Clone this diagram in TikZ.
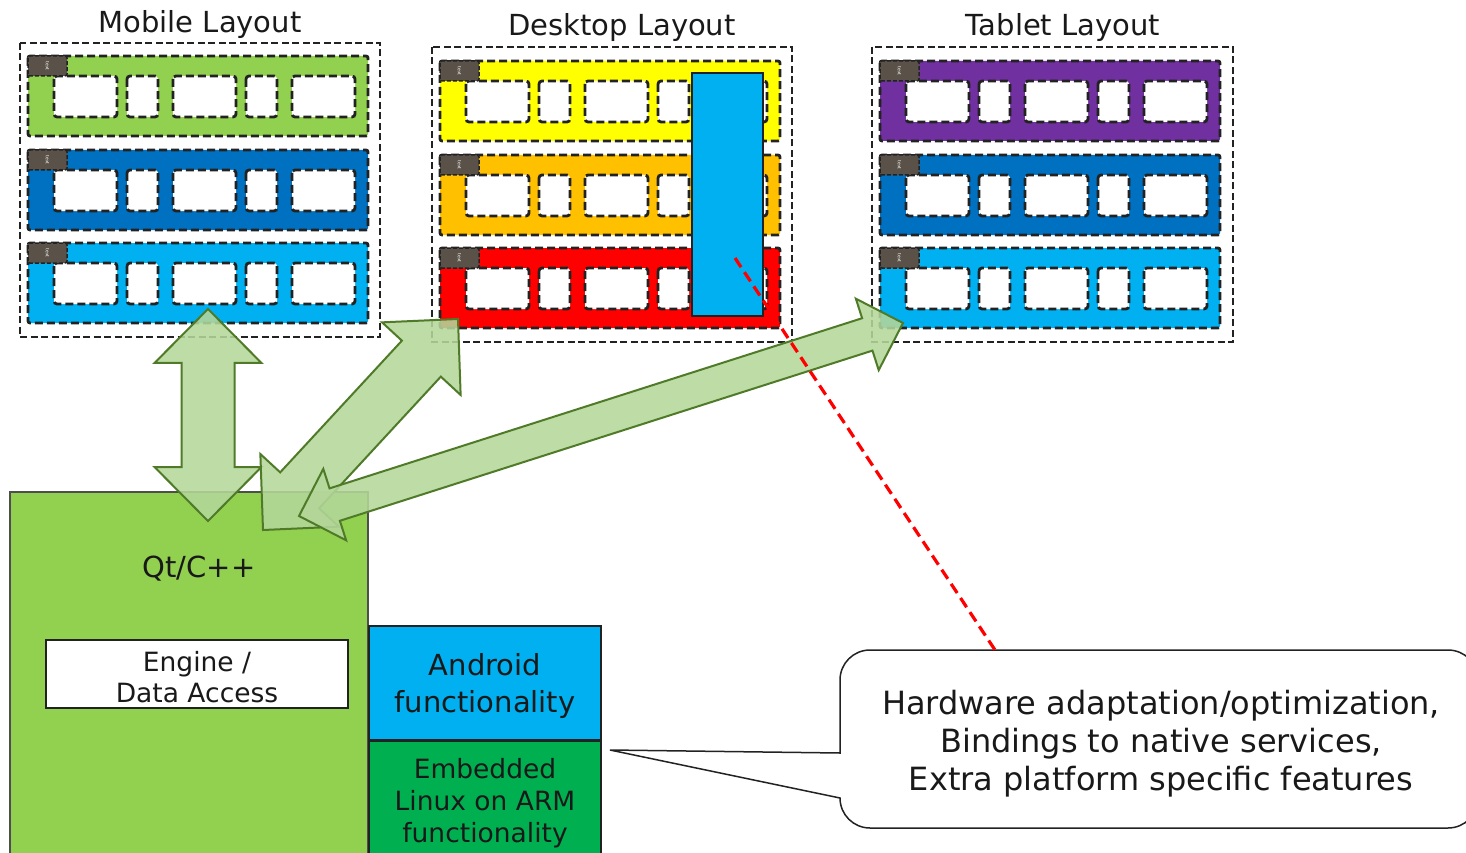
\documentclass[tikz,border=0pt]{standalone}
\usepackage{fontspec}
\setmainfont{DejaVu Sans}
\usetikzlibrary{calc}
\definecolor{rowgreen}{HTML}{92D050}
\definecolor{rowdblue}{HTML}{0070C0}
\definecolor{rowlblue}{HTML}{00B0F0}
\definecolor{rowyellow}{HTML}{FFFF00}
\definecolor{roworange}{HTML}{FFC000}
\definecolor{rowred}{HTML}{FF0000}
\definecolor{rowpurple}{HTML}{7030A0}
\definecolor{tabgray}{HTML}{5A5249}
\definecolor{embgreen}{HTML}{00B050}
\definecolor{arrfill}{HTML}{B4D79A}
\definecolor{arrdraw}{HTML}{4F7B29}
\definecolor{linegray}{HTML}{222222}
\tikzset{
  outerbox/.style={draw=linegray, line width=2.3pt, dash pattern=on 7pt off 3.5pt},
  rowbox/.style={draw=linegray, line width=2.8pt, dash pattern=on 8pt off 4pt, rounded corners=2pt},
  cellbox/.style={draw=linegray, fill=white, line width=2.8pt, dash pattern=on 8pt off 4pt, rounded corners=3pt},
  tabbox/.style={draw=linegray, fill=tabgray, line width=1.5pt, dash pattern=on 4pt off 2pt, rounded corners=2pt},
  tabtext/.style={text=white, font=\fontsize{4.5}{5}\selectfont, rotate=-90, inner sep=0pt},
  bigarrow/.style={draw=arrdraw, fill=arrfill, fill opacity=0.88, line width=2pt, line join=miter},
  titletext/.style={font=\fontsize{29}{34}\selectfont, text=black!90},
  blocktext/.style={align=center, text=black!90},
}
\newcommand{\lrow}[3]{%
  \begin{scope}[shift={(#1,#2)}]
    \draw[rowbox, fill=#3] (0,0) rectangle (340,80);
    \foreach \a/\b in {26/89, 99/130, 145/208, 218/249, 264/327}
      \draw[cellbox] (\a,20) rectangle (\b,61);
    \draw[tabbox] (0,0) rectangle (39,20);
    \node[tabtext] at (19.5,10) {text};
  \end{scope}}
\newcommand{\dblarr}[6]{%
  \draw[bigarrow] (#1) -- ($(#1)!#3pt!#4:(#2)$) -- ($(#1)!#5pt!#6:(#2)$)
    -- ($(#2)!#5pt!-#6:(#1)$) -- ($(#2)!#3pt!-#4:(#1)$) -- (#2)
    -- ($(#2)!#3pt!#4:(#1)$) -- ($(#2)!#5pt!#6:(#1)$)
    -- ($(#1)!#5pt!-#6:(#2)$) -- ($(#1)!#3pt!-#4:(#2)$) -- cycle;}
\begin{document}
\begin{tikzpicture}[x=1pt, y=-1pt]
\useasboundingbox (0,0) rectangle (1466,853);

% titles
\node[titletext] (mobt) at (200,25) {Mobile Layout};
\node[titletext] (deskt) at (622,28) {Desktop Layout};
\node[titletext] (tabt) at (1063,28) {Tablet Layout};

% outer layout frames
\draw[outerbox] (20,43) rectangle (380,337);
\draw[outerbox] (432,47) rectangle (792,342);
\draw[outerbox] (872,47) rectangle (1233,342);

% mobile rows
\lrow{28}{56}{rowgreen}
\lrow{28}{150}{rowdblue}
\lrow{28}{243}{rowlblue}
% desktop rows
\lrow{440}{61}{rowyellow}
\lrow{440}{155}{roworange}
\lrow{440}{248}{rowred}
\draw[draw=linegray, line width=2pt, fill=rowlblue] (692,73) rectangle (763,316);
% tablet rows
\lrow{880}{61}{rowpurple}
\lrow{880}{155}{rowdblue}
\lrow{880}{248}{rowlblue}

% Qt block
\draw[draw=linegray!80, line width=1.2pt, fill=rowgreen] (10,492) rectangle (368,880);
\node[blocktext, font=\fontsize{29}{34}\selectfont] (qt) at (199,569) {Qt/C++};
\node[draw=linegray, line width=1.5pt, fill=white, minimum width=302pt, minimum height=68pt,
      blocktext, font=\fontsize{26.5}{31}\selectfont] (engine) at (197,674) {};
\node[blocktext, font=\fontsize{26.5}{31}\selectfont] (enginetxt) at (197,677) {Engine /\\Data Access};
\draw[draw=linegray, line width=2pt, fill=rowlblue] (369,626) rectangle (601,740);
\node[blocktext, font=\fontsize{29}{37}\selectfont] (android) at (485,686) {Android\\functionality};
\draw[draw=linegray, line width=2pt, fill=embgreen] (369,741) rectangle (601,880);
\node[blocktext, font=\fontsize{26.5}{32}\selectfont] (embedded) at (485,803) {Embedded\\Linux on ARM\\functionality};

% callout
\coordinate (ptip) at (610,750);
\coordinate (ctop) at (995,650);
\draw[draw=linegray, line width=1.5pt, fill=white] (ptip) -- (840,753) -- (840,680)
  .. controls (840,663.4) and (853.4,650) .. (870,650) -- (1448,650)
  .. controls (1464.6,650) and (1478,663.4) .. (1478,680) -- (1478,798)
  .. controls (1478,814.6) and (1464.6,828) .. (1448,828) -- (870,828)
  .. controls (853.4,828) and (840,814.6) .. (840,798) -- cycle;
\node[blocktext, font=\fontsize{32}{38}\selectfont] (callout) at (1161,744)
  {Hardware adaptation/optimization,\\Bindings to native services,\\Extra platform specific features};

% big double arrows
\coordinate (a1s) at (208,309); \coordinate (a1e) at (208,521);
\coordinate (a2s) at (263,530); \coordinate (a2e) at (458,319);
\coordinate (a3s) at (299,516); \coordinate (a3e) at (903,323);
\dblarr{a1s}{a1e}{76.01}{44.73}{60.15}{26.14}
\dblarr{a2s}{a2e}{76.01}{44.73}{60.15}{26.14}
\dblarr{a3s}{a3e}{53.03}{45}{41.17}{24.39}

% red dashed line
\coordinate (rs) at (735,258);
\draw[rowred, line width=3.2pt, dash pattern=on 11pt off 6pt] (rs) -- (ctop);
\end{tikzpicture}
\end{document}
